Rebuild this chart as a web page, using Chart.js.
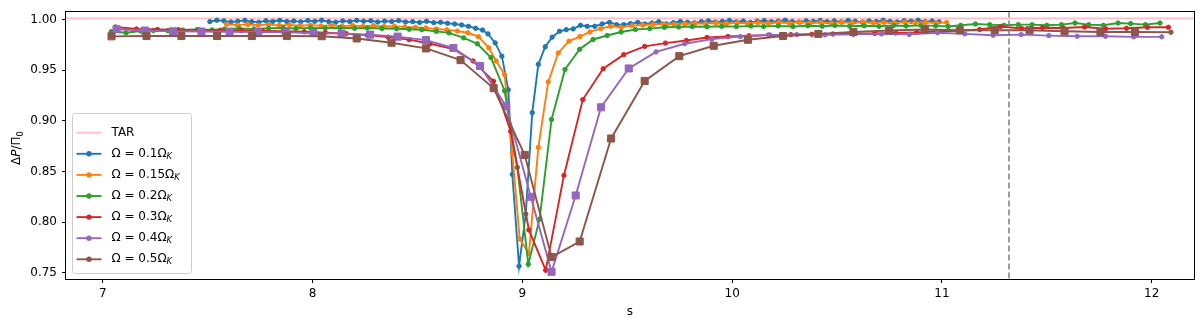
<!DOCTYPE html>
<html><head><meta charset="utf-8">
<script src="https://cdn.jsdelivr.net/npm/chart.js@4.4.0/dist/chart.umd.min.js"></script>
<style>html,body{margin:0;padding:0;background:#fff;}#wrap{position:relative;width:1200px;height:318px;}canvas{display:block;}</style>
</head><body><div id="wrap"><canvas id="c" width="1200" height="318"></canvas></div>
<script>
// ---- axis ticks ----
const xTicks = [7, 8, 9, 10, 11, 12];
const yTicks = [0.75, 0.80, 0.85, 0.90, 0.95, 1.00];
const omegaLabels = ['0.1', '0.15', '0.2', '0.3', '0.4', '0.5'];

// ---- TAR reference and dashed vertical line ----
const tarS = [6.7, 12.3], tarV = [1.001, 1.001];
const vlineS = [11.32, 11.32], vlineV = [0.70, 1.05];

// ---- Omega = 0.1 Omega_K ----
const s01 = [7.51,7.543,7.577,7.61,7.643,7.677,7.71,7.743,7.777,7.81,
7.843,7.877,7.91,7.943,7.977,8.01,8.043,8.077,8.11,8.143,
8.177,8.21,8.243,8.277,8.31,8.343,8.377,8.41,8.443,8.477,
8.51,8.543,8.577,8.61,8.643,8.677,8.71,8.743,8.777,8.81,
8.836,8.87,8.902,8.933,8.952,8.984,9.016,9.047,9.076,9.109,
9.142,9.177,9.209,9.242,9.277,9.309,9.345,9.38,9.415,9.449,
9.483,9.515,9.55,9.583,9.618,9.65,9.686,9.72,9.753,9.787,
9.82,9.853,9.887,9.92,9.953,9.987,10.02,10.053,10.087,10.12,
10.153,10.187,10.22,10.253,10.287,10.32,10.353,10.387,10.42,10.453,
10.487,10.52,10.553,10.587,10.62,10.653,10.687,10.72,10.753,10.787,
10.82,10.853,10.887,10.92,10.953,10.987];
const v01 = [.9978,.9992,.9985,.9975,.9982,.9990,.9978,.9972,.9986,.9980,
.9991,.9979,.9984,.9976,.9989,.9981,.9992,.9978,.9973,.9985,
.9979,.9990,.9982,.9986,.9974,.9983,.9979,.9988,.9975,.9978,
.9970,.9982,.9968,.9972,.9962,.9955,.9945,.9932,.9912,.9895,
.9857,.9768,.9637,.9305,.8470,.7565,.8080,.9080,.9557,.9730,
.9825,.9883,.9899,.9906,.9942,.9932,.9932,.9955,.9971,.9948,
.9948,.9958,.9971,.9955,.9964,.9977,.9955,.9968,.9980,.9972,
.9966,.9978,.9985,.9974,.9981,.9990,.9976,.9984,.9971,.9982,
.9988,.9977,.9983,.9992,.9979,.9974,.9986,.9981,.9990,.9978,
.9985,.9976,.9989,.9982,.9973,.9985,.9979,.9991,.9980,.9975,
.9987,.9982,.9992,.9978,.9984,.9976];

// ---- Omega = 0.15 Omega_K ----
const s015 = [7.59,7.64,7.69,7.74,7.79,7.84,7.89,7.94,7.99,8.04,
8.09,8.14,8.19,8.24,8.29,8.34,8.39,8.44,8.49,8.54,
8.59,8.64,8.69,8.74,8.79,8.84,8.875,8.915,8.952,8.987,
9.031,9.076,9.123,9.171,9.222,9.274,9.322,9.373,9.42,9.471,
9.523,9.573,9.623,9.673,9.723,9.773,9.823,9.873,9.923,9.973,
10.023,10.073,10.123,10.173,10.223,10.273,10.323,10.373,10.423,10.473,
10.523,10.573,10.623,10.673,10.723,10.773,10.823,10.873,10.923,10.973,
11.023];
const v015 = [.9952,.9945,.9950,.9942,.9948,.9940,.9946,.9938,.9944,.9936,
.9942,.9934,.9940,.9932,.9937,.9930,.9933,.9926,.9922,.9915,
.9905,.9897,.9885,.9868,.9830,.9720,.9590,.9455,.8680,.7835,
.7690,.8737,.9383,.9669,.9786,.9831,.9876,.9909,.9932,.9922,
.9939,.9945,.9950,.9955,.9952,.9958,.9962,.9958,.9965,.9960,
.9966,.9962,.9968,.9963,.9970,.9964,.9972,.9966,.9970,.9963,
.9972,.9966,.9974,.9967,.9971,.9965,.9973,.9968,.9972,.9966,
.9970];

// ---- Omega = 0.2 Omega_K ----
const s02 = [7.04,7.11,7.18,7.24,7.31,7.38,7.45,7.52,7.58,7.65,
7.72,7.79,7.86,7.92,7.99,8.06,8.13,8.20,8.26,8.33,
8.40,8.46,8.52,8.59,8.65,8.72,8.785,8.85,8.915,8.976,
9.028,9.082,9.139,9.203,9.273,9.337,9.404,9.471,9.539,9.607,
9.677,9.745,9.81,9.88,9.95,10.02,10.09,10.15,10.22,10.29,
10.36,10.43,10.49,10.56,10.63,10.70,10.77,10.83,10.90,10.97,
11.03,11.09,11.16,11.228,11.296,11.364,11.43,11.50,11.57,11.635,
11.70,11.77,11.84,11.90,11.97,12.04];
const v02 = [.9880,.9868,.9885,.9890,.9888,.9895,.9900,.9897,.9905,.9910,
.9906,.9912,.9915,.9910,.9916,.9913,.9917,.9912,.9915,.9910,
.9908,.9903,.9898,.9882,.9867,.9818,.9760,.9623,.9296,.8540,
.7585,.8030,.9013,.9506,.9705,.9802,.9841,.9876,.9900,.9909,
.9922,.9925,.9930,.9927,.9932,.9929,.9935,.9931,.9936,.9930,
.9938,.9933,.9940,.9934,.9938,.9932,.9940,.9935,.9941,.9936,
.9930,.9942,.9955,.9948,.9942,.9948,.9948,.9942,.9948,.9964,
.9948,.9942,.9964,.9958,.9948,.9964];

// ---- Omega = 0.3 Omega_K ----
const s03 = [7.06,7.16,7.26,7.36,7.46,7.56,7.66,7.76,7.86,7.96,
8.06,8.16,8.26,8.36,8.46,8.56,8.667,8.765,8.862,8.944,
9.031,9.111,9.198,9.288,9.385,9.483,9.583,9.682,9.782,9.88,
9.98,10.08,10.18,10.28,10.38,10.48,10.58,10.68,10.78,10.88,
10.98,11.08,11.18,11.28,11.38,11.48,11.58,11.68,11.78,11.88,
11.98,12.08];
const v03 = [.9925,.9905,.9900,.9898,.9895,.9893,.9890,.9887,.9883,.9878,
.9870,.9860,.9845,.9825,.9800,.9760,.9710,.9590,.9390,.8896,
.7923,.7526,.8461,.9209,.9513,.9652,.9734,.9766,.9792,.9822,
.9831,.9838,.9845,.9850,.9853,.9856,.9858,.9862,.9866,.9872,
.9880,.9888,.9900,.9930,.9910,.9918,.9915,.9925,.9908,.9912,
.9922,.9922];

// ---- Omega = 0.4 Omega_K ----
const s04 = [7.065,7.2,7.334,7.47,7.604,7.739,7.871,8.004,8.138,8.274,
8.405,8.54,8.671,8.798,8.923,9.04,9.139,9.254,9.375,9.507,
9.637,9.774,9.903,10.039,10.173,10.308,10.443,10.578,10.712,10.844,
10.979,11.109,11.244,11.378,11.51,11.645,11.78,11.914,12.048];
const v04 = [.9903,.9890,.9882,.9880,.9878,.9875,.9872,.9866,.9860,.9850,
.9830,.9796,.9718,.9540,.9143,.8250,.7510,.8263,.9133,.9516,
.9679,.9760,.9805,.9831,.9847,.9850,.9847,.9852,.9857,.9852,
.9868,.9857,.9844,.9850,.9840,.9834,.9834,.9828,.9828];
const s04SquaresBelow = 9.55;

// ---- Omega = 0.5 Omega_K ----
const s05 = [7.041,7.208,7.374,7.544,7.71,7.877,8.043,8.21,8.376,8.541,
8.705,8.863,9.011,9.139,9.273,9.423,9.583,9.748,9.912,10.075,
10.243,10.411,10.578,10.749,10.919,11.085,11.252,11.418,11.585,11.756,
11.921,12.092];
const v05 = [.9833,.9836,.9836,.9836,.9836,.9836,.9834,.9812,.9770,.9714,
.9598,.9321,.8663,.7656,.7809,.8825,.9393,.9637,.9740,.9799,
.9836,.9857,.9876,.9890,.9900,.9893,.9893,.9893,.9883,.9876,
.9876,.9873];

const COL = ['#1f77b4','#ff7f0e','#2ca02c','#d62728','#9467bd','#8c564b'];
const TAR_COL = '#ffc0cb', VLINE_COL = '#7f7f7f';
const FONT = '"DejaVu Sans", sans-serif';
const LW = 1.9;

const pts = (s, v) => s.map((x, i) => ({x: x, y: v[i]}));
function series(s, v, color, order, extra) {
  return Object.assign({
    data: pts(s, v), showLine: true, borderColor: color, backgroundColor: color,
    pointBackgroundColor: color, pointBorderColor: color, borderWidth: LW,
    pointRadius: 2.2, pointBorderWidth: 1, pointHoverRadius: 0, tension: 0, order: order
  }, extra || {});
}

const datasets = [
  {data: pts(tarS, tarV), showLine: true, borderColor: TAR_COL, borderWidth: LW, pointRadius: 0, order: 7},
  series(s01, v01, COL[0], 6),
  series(s015, v015, COL[1], 5),
  series(s02, v02, COL[2], 4),
  series(s03, v03, COL[3], 3),
  series(s04, v04, COL[4], 2, {
    pointStyle: c => (c.raw && c.raw.x < s04SquaresBelow) ? 'rect' : 'circle',
    pointRadius: c => (c.raw && c.raw.x < s04SquaresBelow) ? 5 : 2.2
  }),
  series(s05, v05, COL[5], 1, {
    pointStyle: c => c.dataIndex < s05.length - 1 ? 'rect' : 'circle',
    pointRadius: c => c.dataIndex < s05.length - 1 ? 5 : 2.2
  }),
  {data: pts(vlineS, vlineV), showLine: true, borderColor: VLINE_COL, borderWidth: 1.5, borderDash: [6, 3], pointRadius: 0, order: 0}
];

function roundRect(ctx, x, y, w, h, r) {
  ctx.beginPath();
  ctx.moveTo(x + r, y); ctx.lineTo(x + w - r, y); ctx.quadraticCurveTo(x + w, y, x + w, y + r);
  ctx.lineTo(x + w, y + h - r); ctx.quadraticCurveTo(x + w, y + h, x + w - r, y + h);
  ctx.lineTo(x + r, y + h); ctx.quadraticCurveTo(x, y + h, x, y + h - r);
  ctx.lineTo(x, y + r); ctx.quadraticCurveTo(x, y, x + r, y); ctx.closePath();
}

const decor = {
  id: 'decor',
  afterDraw(chart) {
    const ctx = chart.ctx, a = chart.chartArea;
    ctx.save();
    // frame
    ctx.strokeStyle = '#000'; ctx.lineWidth = 1;
    const L = Math.round(a.left) - 0.5, T = Math.round(a.top) - 0.5;
    const R = Math.round(a.right) + 0.5, B = Math.round(a.bottom) + 0.5;
    ctx.strokeRect(L, T, R - L, B - T);
    // legend
    const lx = 72, ly = 113, lw = 119, lh = 160;
    roundRect(ctx, lx + 0.5, ly + 0.5, lw, lh, 3);
    ctx.fillStyle = 'rgba(255,255,255,0.8)'; ctx.fill();
    ctx.strokeStyle = '#cccccc'; ctx.lineWidth = 1; ctx.stroke();
    const rowY = i => 132.7 + 21.1 * i;
    ctx.textBaseline = 'middle'; ctx.textAlign = 'left';
    // TAR
    ctx.strokeStyle = TAR_COL; ctx.lineWidth = LW;
    ctx.beginPath(); ctx.moveTo(76.5, rowY(0)); ctx.lineTo(101.5, rowY(0)); ctx.stroke();
    ctx.fillStyle = '#000'; ctx.font = '12px ' + FONT;
    ctx.fillText('TAR', 111.5, rowY(0));
    omegaLabels.forEach((lab, i) => {
      const y = rowY(i + 1), c = COL[i];
      ctx.strokeStyle = c; ctx.lineWidth = LW;
      ctx.beginPath(); ctx.moveTo(76.5, y); ctx.lineTo(101.5, y); ctx.stroke();
      ctx.fillStyle = c; ctx.beginPath(); ctx.arc(89, y, 2.7, 0, Math.PI * 2); ctx.fill();
      ctx.fillStyle = '#000'; ctx.font = '12px ' + FONT;
      const t = 'Ω = ' + lab + 'Ω';
      ctx.fillText(t, 111.5, y);
      const w = ctx.measureText(t).width;
      ctx.font = 'italic 8.4px ' + FONT;
      ctx.fillText('K', 111.5 + w, y + 3);
    });
    // x title
    ctx.fillStyle = '#000'; ctx.font = '12px ' + FONT; ctx.textAlign = 'center'; ctx.textBaseline = 'alphabetic';
    ctx.fillText('s', (a.left + a.right) / 2, 315);
    // y title: ΔP/Π0
    ctx.save();
    ctx.translate(20, 148); ctx.rotate(-Math.PI / 2);
    ctx.textAlign = 'left';
    const parts = [['Δ', '12px ' + FONT, 0], ['P', 'italic 12px ' + FONT, 0], ['/Π', '12px ' + FONT, 0], ['0', '8.4px ' + FONT, 2.5]];
    let total = 0;
    parts.forEach(p => { ctx.font = p[1]; total += ctx.measureText(p[0]).width; });
    let x = -total / 2;
    parts.forEach(p => { ctx.font = p[1]; ctx.fillText(p[0], x, p[2]); x += ctx.measureText(p[0]).width; });
    ctx.restore();
    ctx.restore();
  }
};

const tickFont = {family: FONT, size: 12};
new Chart(document.getElementById('c'), {
  type: 'scatter',
  data: {datasets: datasets},
  options: {
    responsive: false, animation: false, devicePixelRatio: 1,
    layout: {padding: {left: 0, right: 3.5, top: 9, bottom: 0}},
    plugins: {legend: {display: false}, tooltip: {enabled: false}},
    scales: {
      x: {
        type: 'linear', min: 6.824, max: 12.202,
        afterBuildTicks: s => { s.ticks = xTicks.map(v => ({value: v})); },
        afterFit: s => { s.height = 39; },
        ticks: {font: tickFont, color: '#000', padding: 4, maxRotation: 0, autoSkip: false, callback: v => String(v)},
        grid: {display: true, drawOnChartArea: false, drawTicks: true, tickLength: 4, color: '#000', lineWidth: 1},
        border: {display: false}
      },
      y: {
        type: 'linear', min: 0.7439, max: 1.0071,
        afterBuildTicks: s => { s.ticks = yTicks.map(v => ({value: v})); },
        afterFit: s => { s.width = 66; },
        ticks: {font: tickFont, color: '#000', padding: 5, autoSkip: false, callback: v => Number(v).toFixed(2)},
        grid: {display: true, drawOnChartArea: false, drawTicks: true, tickLength: 4, color: '#000', lineWidth: 1},
        border: {display: false}
      }
    }
  },
  plugins: [decor]
});
</script>
</body></html>
